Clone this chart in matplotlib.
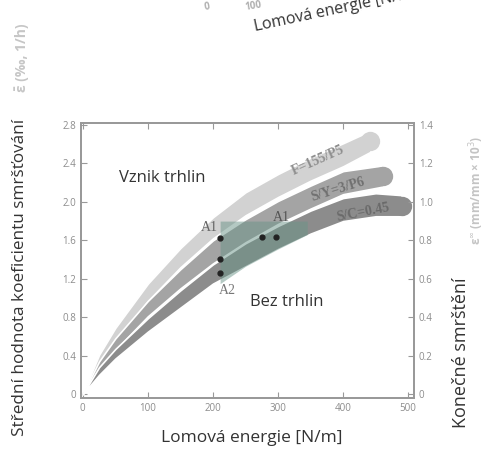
import numpy as np
import matplotlib
matplotlib.use('Agg')
import matplotlib.pyplot as plt

plt.rcParams['font.family'] = ['Open Sans', 'DejaVu Sans']

# bands: x [N/m], centre and half width
x_top = [0, 25, 50, 100, 150, 200, 250, 300, 350, 400, 442]
c_top = [0, 0.36, 0.62, 1.06, 1.42, 1.73, 1.98, 2.17, 2.34, 2.49, 2.63]
w_top = [0, 0.05, 0.07, 0.09, 0.10, 0.11, 0.12, 0.12, 0.12, 0.12, 0.11]

x_mid = [0, 25, 50, 100, 150, 200, 250, 300, 350, 400, 462]
c_mid = [0, 0.30, 0.52, 0.89, 1.20, 1.48, 1.70, 1.89, 2.05, 2.20, 2.27]
w_mid = [0, 0.04, 0.06, 0.08, 0.10, 0.12, 0.12, 0.12, 0.12, 0.12, 0.11]

x_bot = [0, 25, 50, 100, 150, 200, 250, 300, 350, 400, 450, 490]
c_bot = [0, 0.24, 0.42, 0.72, 0.99, 1.25, 1.45, 1.63, 1.79, 1.92, 1.97, 1.96]
w_bot = [0, 0.04, 0.05, 0.07, 0.09, 0.10, 0.12, 0.12, 0.12, 0.12, 0.12, 0.11]

band_names = ['F=155/P5', 'S/Y=3/P6', 'S/C=0.45']
band_colors = ['#d2d2d2', '#a4a4a4', '#8c8c8c']

# tinted zone
green_x = [211, 250, 300, 345]
green_lo = [1.15, 1.33, 1.51, 1.66]
green_hi = [1.80, 1.80, 1.80, 1.80]

# points
dot_x = [211, 211, 211, 275, 297]
dot_y = [1.62, 1.41, 1.26, 1.63, 1.63]

xticks = [0, 100, 200, 300, 400, 500]
yticks = [0, 0.4, 0.8, 1.2, 1.6, 2.0, 2.4, 2.8]
yticks_r = [0, 0.2, 0.4, 0.6, 0.8, 1.0, 1.2, 1.4]

serif = ['Liberation Serif', 'DejaVu Serif']

fig = plt.figure(figsize=(4.9, 4.5), dpi=100)
ax = fig.add_axes([0.165, 0.1156, 0.680, 0.611])

bands = [(x_top, c_top, w_top), (x_mid, c_mid, w_mid), (x_bot, c_bot, w_bot)]
for (xs, cs, ws), col in zip(bands, band_colors):
    xs = np.array(xs); cs = np.array(cs); ws = np.array(ws)
    ax.fill_between(xs, cs - ws, cs + ws, color=col, edgecolor='white', lw=1.2, zorder=2)
    # rounded end of the band
    ax.plot(xs[-1], cs[-1], 'o', ms=ws[-1] * 2 * 96 * 0.66, color=col, mec='none', zorder=2)

ax.fill_between(green_x, green_lo, green_hi, color='#6a9488', alpha=0.5, lw=0, zorder=3)
ax.plot(dot_x, dot_y, 'o', color='#222222', ms=3.5, zorder=5)

# band labels
ax.text(362, 2.43, band_names[0], rotation=24, color='#8e8e8e', fontsize=10,
        family=serif, fontweight='bold', ha='center', va='center', zorder=4)
ax.text(392, 2.13, band_names[1], rotation=17, color='#707070', fontsize=10,
        family=serif, fontweight='bold', ha='center', va='center', zorder=4)
ax.text(430, 1.89, band_names[2], rotation=11, color='#6a6a6a', fontsize=10,
        family=serif, fontweight='bold', ha='center', va='center', zorder=4)
ax.text(207, 1.73, 'A1', color='#666666', fontsize=10, family=serif,
        ha='right', va='center', zorder=4)
ax.text(305, 1.84, 'A1', color='#555555', fontsize=10, family=serif,
        ha='center', va='center', zorder=4)
ax.text(222, 1.08, 'A2', color='#777777', fontsize=10, family=serif,
        ha='center', va='center', zorder=4)

ax.text(122, 2.25, 'Vznik trhlin', fontsize=12, color='#333333', ha='center', va='center')
ax.text(314, 0.96, 'Bez trhlin', fontsize=12, color='#333333', ha='center', va='center')

ax.set_xlim(-3, 509)
ax.set_ylim(-0.04, 2.82)
ax.set_xticks(xticks)
ax.set_yticks(yticks)
ax.set_xticklabels([str(t) for t in xticks])
ax.set_yticklabels(['0'] + ['%.1f' % t for t in yticks[1:]])
ax.tick_params(direction='in', length=4, color='#999999', labelcolor='#8c8c8c',
               labelsize=7, top=True)
for s in ax.spines.values():
    s.set_color('#999999')
    s.set_linewidth(1.3)

ax2 = ax.twinx()
ax2.set_ylim(-0.02, 1.41)
ax2.set_yticks(yticks_r)
ax2.set_yticklabels(['0'] + ['%.1f' % t for t in yticks_r[1:]])
ax2.tick_params(direction='in', length=4, color='#999999', labelcolor='#8c8c8c', labelsize=7)
for s in ax2.spines.values():
    s.set_color('#999999')
    s.set_linewidth(1.3)

# axis titles
fig.text(20 / 490, 1 - 277 / 450, 'Střední hodnota koeficientu smršťování', rotation=90,
         fontsize=12.3, color='#333333', ha='center', va='center')
fig.text(22 / 490, 1 - 58 / 450, 'ε̄ (‰, 1/h)', rotation=90,
         fontsize=10, color='#c6c6c6', ha='center', va='center', fontweight='bold')
fig.text(461 / 490, 1 - 353 / 450, 'Konečné smrštění', rotation=90,
         fontsize=13, color='#333333', ha='center', va='center')
fig.text(477 / 490, 1 - 190 / 450, 'ε$^{\\infty}$ (mm/mm × 10$^{3}$)', rotation=90,
         fontsize=8.5, color='#c4c4c4', ha='center', va='center', fontweight='bold')
fig.text(252 / 490, 1 - 438 / 450, 'Lomová energie [N/m]', fontsize=12.5,
         color='#333333', ha='center', va='center')
# label of the panel above, cut by the top edge as in the source
fig.text(255 / 490, 1 - 31 / 450, 'Lomová energie [N/m]', rotation=12, fontsize=11.5,
         color='#333333', ha='left', va='baseline', rotation_mode='anchor')
fig.text(207 / 490, 1 - 7 / 450, '0', rotation=9, fontsize=7, color='#b0b0b0',
         ha='center', va='center', fontweight='bold')
fig.text(253 / 490, 1 - 6 / 450, '100', rotation=9, fontsize=7, color='#b0b0b0',
         ha='center', va='center', fontweight='bold')

fig.savefig('out.png', dpi=100, facecolor='w')
